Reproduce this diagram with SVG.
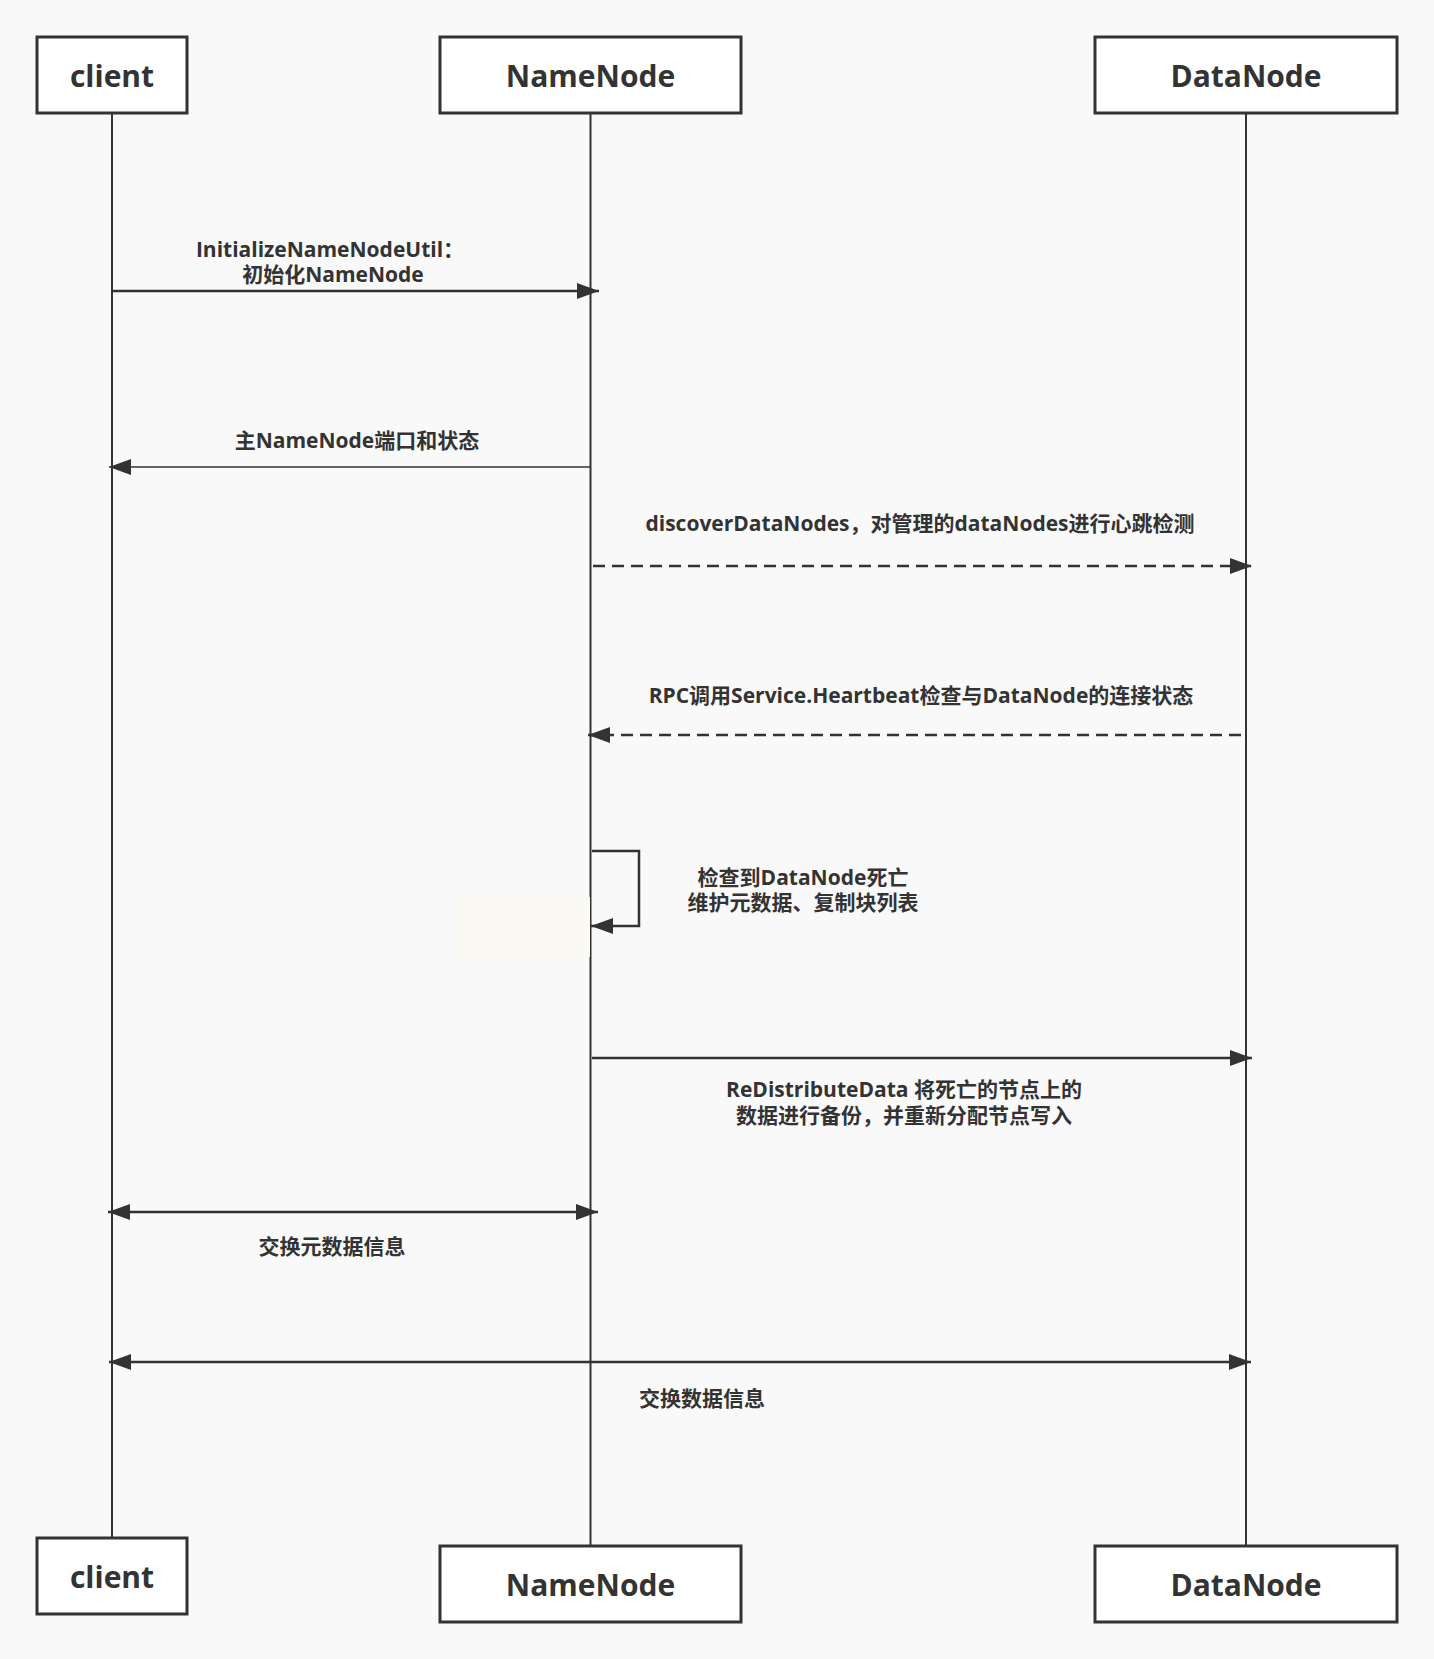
<svg xmlns="http://www.w3.org/2000/svg" width="1434" height="1659" viewBox="0 0 1434 1659">
<style>
.box{fill:#fff;stroke:#333;stroke-width:3}
.hd{font-family:"Open Sans","Noto Sans CJK SC",sans-serif;font-weight:700;font-size:30px;fill:#333;text-anchor:middle;dominant-baseline:central}
.lb{font-family:"Open Sans","Noto Sans CJK SC",sans-serif;font-weight:700;font-size:21px;fill:#333;text-anchor:middle;dominant-baseline:central}
.life{stroke:#333;stroke-width:2;fill:none}
.msg{stroke:#333;stroke-width:2.5;fill:none}
.dash{stroke-dasharray:12 7}
</style>
<defs>
<marker id="ah" markerUnits="userSpaceOnUse" viewBox="0 0 22 16" markerWidth="22" markerHeight="16" refX="22" refY="8" orient="auto-start-reverse">
<path d="M0,0 L22,8 L0,16 z" fill="#333"/>
</marker>
</defs>
<rect width="1434" height="1659" fill="#f9f9f9"/>
<g id="lifelines">
<line class="life" x1="112" y1="113" x2="112" y2="1538"/>
<line class="life" x1="590.5" y1="113" x2="590.5" y2="1546"/>
<line class="life" x1="1246" y1="113" x2="1246" y2="1546"/>
</g>
<rect x="457" y="897" width="133" height="60" fill="#fafaf2"/>
<g id="client-top"><rect class="box" x="37" y="37" width="150" height="76"/><text class="hd" x="112" y="75">client</text></g>
<g id="namenode-top"><rect class="box" x="440" y="37" width="301" height="76"/><text class="hd" x="590.5" y="75">NameNode</text></g>
<g id="datanode-top"><rect class="box" x="1095" y="37" width="302" height="76"/><text class="hd" x="1246" y="75">DataNode</text></g>
<g id="client-bottom"><rect class="box" x="37" y="1538" width="150" height="76"/><text class="hd" x="112" y="1576">client</text></g>
<g id="namenode-bottom"><rect class="box" x="440" y="1546" width="301" height="76"/><text class="hd" x="590.5" y="1584">NameNode</text></g>
<g id="datanode-bottom"><rect class="box" x="1095" y="1546" width="302" height="76"/><text class="hd" x="1246" y="1584">DataNode</text></g>
<g id="connectors">
<line class="msg" x1="112" y1="291" x2="599" y2="291" marker-end="url(#ah)"/>
<line class="msg" x1="590" y1="467" x2="109" y2="467" style="stroke-width:1.6" marker-end="url(#ah)"/>
<line class="msg dash" x1="593" y1="566" x2="1252" y2="566" marker-end="url(#ah)"/>
<line class="msg dash" x1="1241" y1="735" x2="588" y2="735" marker-end="url(#ah)"/>
<polyline class="msg" points="592,851 639,851 639,926 591,926" marker-end="url(#ah)"/>
<line class="msg" x1="592" y1="1058" x2="1252" y2="1058" marker-end="url(#ah)"/>
<line class="msg" x1="108" y1="1212" x2="598" y2="1212" marker-start="url(#ah)" marker-end="url(#ah)"/>
<line class="msg" x1="109" y1="1362" x2="1251" y2="1362" marker-start="url(#ah)" marker-end="url(#ah)"/>
</g>
<g id="labels">
<text class="lb" x="330" y="249">InitializeNameNodeUtil：</text>
<text class="lb" x="333" y="274">初始化NameNode</text>
<text class="lb" x="357" y="440">主NameNode端口和状态</text>
<text class="lb" x="920" y="523">discoverDataNodes，对管理的dataNodes进行心跳检测</text>
<text class="lb" x="921" y="695">RPC调用Service.Heartbeat检查与DataNode的连接状态</text>
<text class="lb" x="803" y="877">检查到DataNode死亡</text>
<text class="lb" x="803" y="902">维护元数据、复制块列表</text>
<text class="lb" x="904" y="1089">ReDistributeData 将死亡的节点上的</text>
<text class="lb" x="904" y="1115">数据进行备份，并重新分配节点写入</text>
<text class="lb" x="332" y="1246">交换元数据信息</text>
<text class="lb" x="702" y="1398">交换数据信息</text>
</g>
</svg>
